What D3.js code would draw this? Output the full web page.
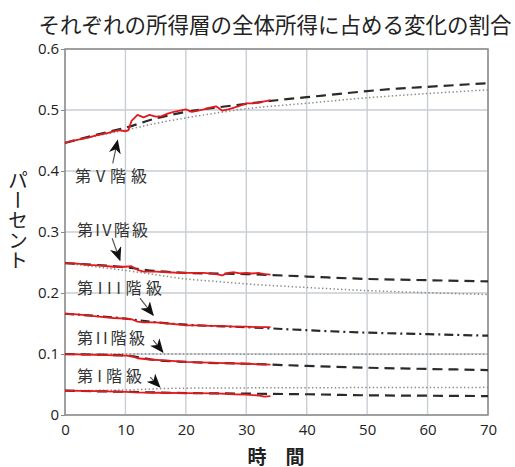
<!DOCTYPE html>
<html><head><meta charset="utf-8">
<script src="https://cdn.jsdelivr.net/npm/d3@7"></script>
<style>
html,body{margin:0;padding:0;background:#fff;}
svg{display:block;}
</style></head>
<body>
<svg id="chart" width="515" height="467"></svg>
<script>
// ---------- data ----------
const xTicks = [0,10,20,30,40,50,60,70];
const xTickLabels = ["0","10","20","30","40","50","60","70"];
const yTicks = [0,0.1,0.2,0.3,0.4,0.5,0.6];
const yTickLabels = ["0","0.1","0.2","0.3","0.4","0.5","0.6"];
const title = "それぞれの所得層の全体所得に占める変化の割合";
const xTitle = "時　間";
const yTitle = "パーセント";

// actual (red) series, [time, share]
const q5Actual = [[0,0.446],[1,0.449],[2,0.451],[3,0.453],[4,0.455],[5,0.458],[6,0.460],[7,0.462],[8,0.465],[9,0.467],[10,0.465],[10.5,0.467],[11,0.482],[12,0.492],[13,0.488],[14,0.492],[15,0.489],[16,0.490],[17,0.494],[18,0.497],[19,0.499],[20,0.501],[21,0.497],[22,0.499],[23,0.501],[24,0.504],[25,0.506],[26,0.499],[27,0.501],[28,0.504],[29,0.507],[30,0.511],[31,0.511],[32,0.512],[33,0.514],[34,0.516]];
const q4Actual = [[0,0.249],[2,0.248],[4,0.246],[6,0.245],[8,0.243],[10,0.243],[11,0.244],[12,0.238],[13,0.235],[15,0.235],[17,0.234],[19,0.233],[21,0.233],[23,0.233],[25,0.231],[26,0.229],[27,0.233],[28,0.234],[29,0.232],[30,0.233],[31,0.232],[32,0.233],[33,0.231],[34,0.230]];
const q3Actual = [[0,0.166],[2,0.165],[4,0.163],[6,0.161],[8,0.159],[10,0.158],[11,0.157],[12,0.153],[13,0.152],[15,0.152],[17,0.150],[19,0.148],[20,0.147],[22,0.147],[24,0.146],[26,0.146],[28,0.145],[30,0.145],[32,0.144],[34,0.144]];
const q2Actual = [[0,0.0998],[5,0.0985],[10,0.0975],[11,0.0965],[12,0.093],[14,0.091],[17,0.089],[20,0.087],[25,0.0855],[30,0.084],[34,0.0825]];
const q1Actual = [[0,0.0398],[5,0.039],[10,0.038],[12,0.037],[15,0.0365],[20,0.036],[25,0.0355],[28,0.034],[30,0.0335],[32,0.032],[33,0.030],[34,0.031]];

// model projection (dashed) series
const q5Model = [[0,0.446],[5,0.459],[10,0.471],[15,0.486],[20,0.497],[25,0.504],[30,0.510],[35,0.516],[40,0.521],[45,0.526],[50,0.531],[55,0.535],[60,0.538],[65,0.541],[70,0.544]];
const q4Model = [[0,0.249],[10,0.242],[15,0.236],[20,0.233],[30,0.231],[40,0.227],[50,0.223],[60,0.221],[70,0.219]];
const q3Model = [[0,0.166],[10,0.158],[15,0.152],[20,0.148],[30,0.144],[40,0.139],[50,0.135],[60,0.1325],[70,0.130]];
const q2Model = [[0,0.0998],[10,0.0975],[15,0.090],[20,0.087],[30,0.084],[40,0.0805],[50,0.0775],[60,0.0755],[70,0.0737]];
const q1Model = [[0,0.0398],[10,0.038],[20,0.036],[30,0.035],[40,0.034],[50,0.0323],[60,0.0316],[70,0.031]];

// alternative projection (dotted) series
const q5Alt = [[0,0.446],[5,0.457],[10,0.467],[15,0.478],[20,0.487],[25,0.495],[30,0.502],[40,0.511],[50,0.520],[60,0.527],[70,0.533]];
const q4Alt = [[0,0.249],[5,0.243],[10,0.237],[15,0.230],[20,0.223],[25,0.219],[30,0.215],[40,0.209],[50,0.204],[60,0.2005],[70,0.1975]];
const q2Alt = [[0,0.100],[70,0.0995]];
const q1Alt = [[0,0.040],[10,0.041],[15,0.043],[20,0.044],[40,0.0447],[70,0.0453]];

// annotation labels: text, label anchor (t, share), arrow start and tip (t, share)
const labelTexts = ["第V階級","第IV階級","第III階級","第II階級","第I階級"];
const labelAt = [[1.65,0.393],[2.0,0.3044],[2.0,0.2095],[2.0,0.1277],[2.0,0.0655]];
const arrowFrom = [[7.9,0.4125],[7.8,0.2897],[12.4,0.1915],[14.6,0.1228],[14.1,0.0622]];
const arrowTo = [[8.7,0.450],[9.1,0.2537],[14.6,0.1637],[16.2,0.1031],[15.7,0.0458]];

// ---------- drawing ----------
const svg = d3.select("#chart");
const L = 65, R = 488, T = 49, B = 415;
const x = d3.scaleLinear().domain([0,70]).range([L,R]);
const y = d3.scaleLinear().domain([0,0.6]).range([B,T]);
const sans = "'Noto Sans CJK JP','Noto Sans',sans-serif";

// grid
const g = svg.append("g");
g.selectAll(".vg").data(xTicks).join("line")
  .attr("x1", d=>x(d)).attr("x2", d=>x(d)).attr("y1", T).attr("y2", B)
  .attr("stroke","#c9ced3").attr("stroke-width",1.4);
g.selectAll(".hg").data(yTicks).join("line")
  .attr("x1", L).attr("x2", R).attr("y1", d=>y(d)).attr("y2", d=>y(d))
  .attr("stroke","#c9ced3").attr("stroke-width",1.4);

// axes (labels)
const yAxis = d3.axisLeft(y).tickValues(yTicks).tickSize(4).tickPadding(2)
  .tickFormat((d,i)=>yTickLabels[i]);
const ya = svg.append("g").attr("transform",`translate(${L},0)`).call(yAxis);
ya.select(".domain").remove();
ya.selectAll(".tick line").attr("stroke","#888");
ya.selectAll("text").attr("font-family","'Open Sans','Noto Sans',sans-serif").attr("font-size",15).attr("fill","#222");

const xAxis = d3.axisBottom(x).tickValues(xTicks).tickSize(0).tickPadding(9)
  .tickFormat((d,i)=>xTickLabels[i]);
const xa = svg.append("g").attr("transform",`translate(0,${B})`).call(xAxis);
xa.select(".domain").remove();
xa.selectAll("text").attr("font-family","'Open Sans','Noto Sans',sans-serif").attr("font-size",15).attr("fill","#222");

// frame
svg.append("rect").attr("x",L).attr("y",T).attr("width",R-L).attr("height",B-T)
  .attr("fill","none").attr("stroke","#8c8c8c").attr("stroke-width",1.5);

const lineSmooth = d3.line().x(d=>x(d[0])).y(d=>y(d[1])).curve(d3.curveMonotoneX);
const lineRaw = d3.line().x(d=>x(d[0])).y(d=>y(d[1]));

// dotted
[q5Alt,q4Alt,q2Alt,q1Alt].forEach(s=>{
  svg.append("path").attr("d",lineSmooth(s)).attr("fill","none")
    .attr("stroke","#8a8a8a").attr("stroke-width",1.5).attr("stroke-dasharray","1.4,2.4");
});
// dashed
[q5Model,q4Model,q2Model,q1Model].forEach(s=>{
  svg.append("path").attr("d",lineSmooth(s)).attr("fill","none")
    .attr("stroke","#2a2a2a").attr("stroke-width",2.2).attr("stroke-dasharray","10,6");
});
// dash-dot
svg.append("path").attr("d",lineSmooth(q3Model)).attr("fill","none")
  .attr("stroke","#2a2a2a").attr("stroke-width",2.2).attr("stroke-dasharray","9,4,2,4");
// red actual
[q5Actual,q4Actual,q3Actual,q2Actual,q1Actual].forEach(s=>{
  svg.append("path").attr("d",lineRaw(s)).attr("fill","none")
    .attr("stroke","#e5191c").attr("stroke-width",1.8).attr("stroke-linejoin","round");
});

// arrows
const defs = svg.append("defs");
defs.append("marker").attr("id","ah").attr("viewBox","0 0 14 12")
  .attr("refX",13).attr("refY",6).attr("markerWidth",14).attr("markerHeight",12)
  .attr("markerUnits","userSpaceOnUse").attr("orient","auto")
  .append("path").attr("d","M0,0 L14,6 L0,12 L4,6 Z").attr("fill","#111");
labelTexts.forEach((t,i)=>{
  svg.append("line")
    .attr("x1",x(arrowFrom[i][0])).attr("y1",y(arrowFrom[i][1]))
    .attr("x2",x(arrowTo[i][0])).attr("y2",y(arrowTo[i][1]))
    .attr("stroke","#555").attr("stroke-width",1.2).attr("marker-end","url(#ah)");
});
const labelWidths = [72,71,85,68,65];
labelTexts.forEach((t,i)=>{
  svg.append("text").attr("x",x(labelAt[i][0])).attr("y",y(labelAt[i][1]))
    .attr("dominant-baseline","central")
    .attr("font-family",sans).attr("font-size",16).attr("fill","#333")
    .attr("textLength",labelWidths[i]).attr("lengthAdjust","spacing")
    .text(t);
});

// titles
svg.append("text").attr("x",275).attr("y",23).attr("text-anchor","middle")
  .attr("dominant-baseline","central").attr("font-family",sans)
  .attr("font-size",21.5).attr("fill","#222").text(title);
svg.append("text").attr("x",276).attr("y",455).attr("text-anchor","middle")
  .attr("dominant-baseline","central").attr("font-family",sans)
  .attr("font-size",19).attr("font-weight","bold").attr("fill","#222").text(xTitle);
svg.append("text").attr("x",18).attr("y",220).attr("text-anchor","middle")
  .attr("writing-mode","vertical-rl").attr("font-family",sans)
  .attr("font-size",20).attr("fill","#222").text(yTitle);
</script>
</body></html>
